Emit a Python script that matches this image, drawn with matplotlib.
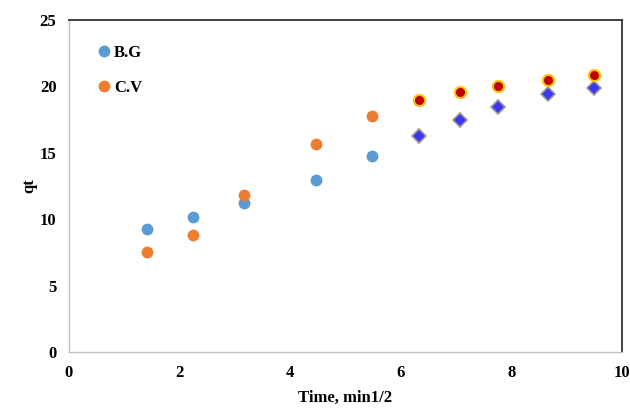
import numpy as np
import matplotlib.pyplot as plt

plt.rcParams['font.family'] = ['Liberation Serif', 'DejaVu Serif']
plt.rcParams['font.weight'] = 'bold'

# time, min^1/2
t_early = [1.41, 2.24, 3.16, 4.47, 5.48]
t_late = [6.32, 7.07, 7.75, 8.66, 9.49]

# qt values
bg_early = [9.3, 10.15, 11.2, 12.95, 14.75]
cv_early = [7.5, 8.85, 11.85, 15.65, 17.8]
bg_late = [16.25, 17.5, 18.45, 19.4, 19.9]
cv_late = [19.0, 19.55, 20.0, 20.5, 20.85]

fig = plt.figure(figsize=(6.3, 4.08), dpi=100)
ax = fig.add_axes([0.1095, 0.137, 0.878, 0.814])

ax.plot(t_early, bg_early, 'o', color='#5B9BD5', markersize=8.5, markeredgewidth=0, label='B.G')
ax.plot(t_early, cv_early, 'o', color='#ED7D31', markersize=8.5, markeredgewidth=0, label='C.V')
ax.plot(t_late, bg_late, 'D', markerfacecolor='#3838F5', markeredgecolor='#9a9a9a',
        markersize=7, markeredgewidth=1.2)
ax.plot(t_late, cv_late, 'o', markerfacecolor='#C00000', markeredgecolor='#FFC000',
        markersize=8, markeredgewidth=1.5)

ax.set_xlim(0, 10)
ax.set_ylim(0, 25)
ax.set_xticks(np.arange(0, 11, 2))
ax.set_yticks(np.arange(0, 26, 5))
ax.tick_params(length=0, labelsize=12, pad=9)

for s in ['left', 'bottom']:
    ax.spines[s].set_color('#bfbfbf')
    ax.spines[s].set_linewidth(1)
for s in ['top', 'right']:
    ax.spines[s].set_color('#222222')
    ax.spines[s].set_linewidth(1.2)

ax.set_xlabel('Time, min1/2', fontsize=12, fontweight='bold', labelpad=7)
ax.set_ylabel('qt', fontsize=12, fontweight='bold', labelpad=2)

ax.legend(loc='upper left', bbox_to_anchor=(0.018, 0.97), frameon=False,
          fontsize=12, handletextpad=0.0, labelspacing=1.15, handlelength=1.2)

plt.savefig('out.png', dpi=100)
